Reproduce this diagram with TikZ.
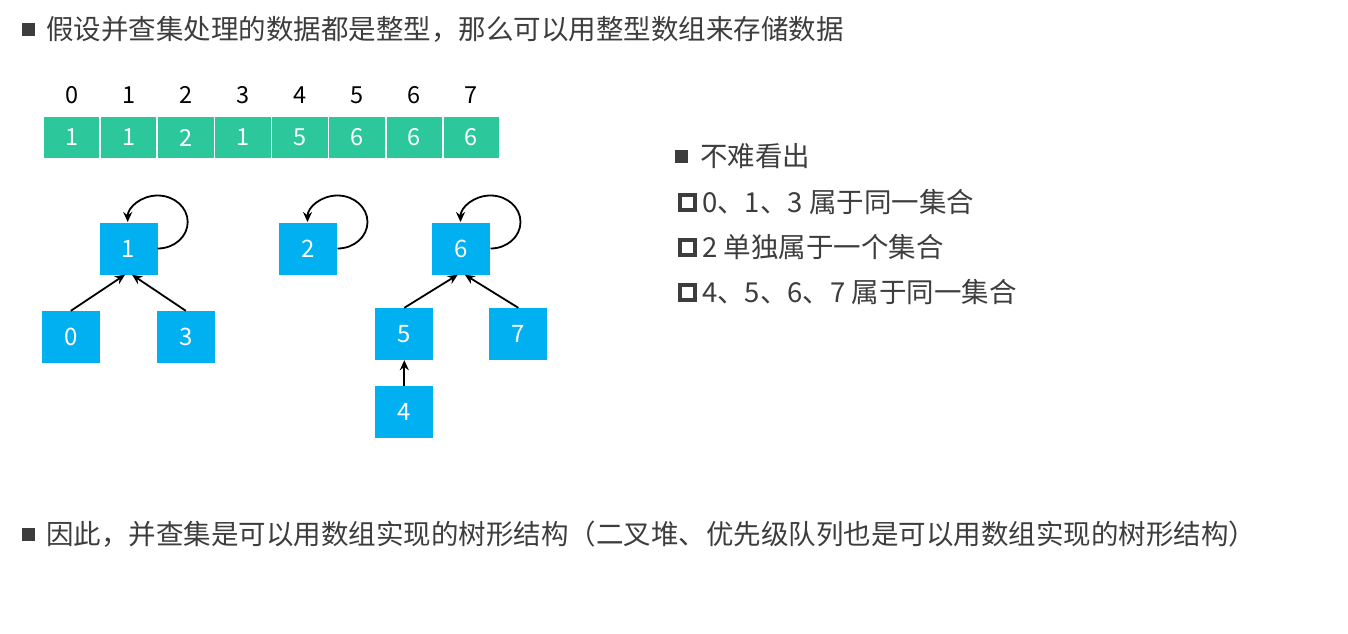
\documentclass[tikz,border=0pt]{standalone}
\usepackage{fontspec}
\setmainfont{Noto Sans CJK SC}
\usetikzlibrary{arrows.meta}
\definecolor{txt}{HTML}{3D3D3D}
\definecolor{cellgreen}{RGB}{44,200,155}
\definecolor{boxblue}{RGB}{0,176,240}
\begin{document}
\begin{tikzpicture}[x=1pt,y=-1pt,
  cell/.style={draw=white, line width=1.5pt, fill=cellgreen, minimum width=57.1pt, minimum height=43pt, inner sep=0pt, text=white, font=\fontsize{23.5}{23.5}\selectfont},
  idx/.style={inner sep=0pt, text=black, font=\fontsize{23.5}{23.5}\selectfont},
  tnode/.style={fill=boxblue, minimum width=58pt, minimum height=52pt, inner sep=0pt, text=white, font=\fontsize{24}{24}\selectfont},
  arr/.style={line width=1.8pt, draw=black, -{Stealth[length=10pt,width=9pt]}},
  txtline/.style={anchor=west, inner sep=0pt, text=txt, font=\fontsize{27.5}{30}\selectfont},
  bul/.style={fill=txt, minimum size=13pt, inner sep=0pt},
  hbul/.style={draw=txt, line width=4.2pt, minimum size=15pt, inner sep=0pt}
]
\useasboundingbox (0,0) rectangle (1348,633);
\fill[white] (0,0) rectangle (1348,633);

% title
\node[bul] (tb) at (28.5,29) {};
\node[txtline] (title) at (46,29) {假设并查集处理的数据都是整型，那么可以用整型数组来存储数据};

% array
\foreach \i/\v in {0/1,1/1,2/2,3/1,4/5,5/6,6/6,7/6} {
  \node[cell] (c\i) at ({43+57.125*(\i+0.5)},137.5) {\v};
  \node[idx] (i\i) at ({43+57.125*(\i+0.5)},95) {\i};
}

% trees
\node[tnode] (n1) at (128.5,248.5) {1};
\node[tnode] (n0) at (70.8,337) {0};
\node[tnode] (n3) at (185.8,337) {3};
\node[tnode] (n2) at (308.3,248.5) {2};
\node[tnode] (n6) at (461.3,248.5) {6};
\node[tnode] (n5) at (404.3,334) {5};
\node[tnode] (n7) at (518.3,334) {7};
\node[tnode] (n4) at (404.3,411.7) {4};

\draw[arr] (n0.north) -- ([xshift=-3.5pt]n1.south);
\draw[arr] (n3.north) -- ([xshift=3.5pt]n1.south);
\draw[arr] (n5.north) -- ([xshift=-3.5pt]n6.south);
\draw[arr] (n7.north) -- ([xshift=3.5pt]n6.south);
\draw[arr] (n4.north) -- (n5.south);

\draw[arr] (n1.east) arc[start angle=90, end angle=-180, x radius=30, y radius=26.5];
\draw[arr] (n2.east) arc[start angle=90, end angle=-180, x radius=30, y radius=26.5];
\draw[arr] (n6.east) arc[start angle=90, end angle=-180, x radius=30, y radius=26.5];

% right text
\node[bul] (rb) at (681.5,156) {};
\node[txtline] (r1) at (700,156) {不难看出};
\node[hbul] (h2) at (687.5,202.5) {};
\node[txtline] (r2) at (702,202) {0、1、3 属于同一集合};
\node[hbul] (h3) at (687.5,247.5) {};
\node[txtline] (r3) at (702,247) {2 单独属于一个集合};
\node[hbul] (h4) at (687.5,292.5) {};
\node[txtline] (r4) at (702,292) {4、5、6、7 属于同一集合};

% bottom
\node[bul] (bb) at (28,534) {};
\node[txtline] (bottom) at (46,534) {因此，并查集是可以用数组实现的树形结构（二叉堆、优先级队列也是可以用数组实现的树形结构）};
\end{tikzpicture}
\end{document}
